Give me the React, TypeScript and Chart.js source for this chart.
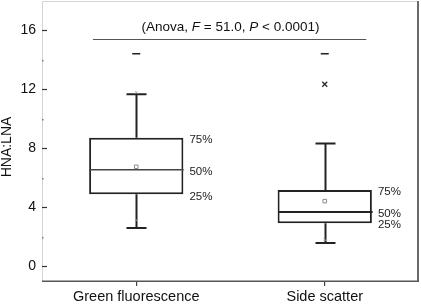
import React, { useEffect, useRef } from "react";
import { Chart, registerables } from "chart.js";

Chart.register(...registerables);

// Groups on the x axis
const categories = ["Green fluorescence", "Side scatter"];

// Box-plot summaries of HNA:LNA for each group
const whiskerLow = [2.6, 1.58];
const quartile1 = [4.88, 2.92];
const medians = [6.55, 3.68];
const quartile3 = [8.72, 5.17];
const whiskerHigh = [11.68, 8.33];
const means = [6.75, 4.42];
const maxima = [14.42, 14.42];
const outliers = [null, 12.35];
const percentile1 = [3.12, 1.8];
const percentile99 = [11.8, null];

// Percentile annotations next to each box
const percentLabels = ["75%", "50%", "25%"];

// Y axis
const yMin = -1;
const yMax = 18;
const yLabelled = [0, 4, 8, 12, 16];
const yMinor = [2, 6, 10, 14];

// Significance bracket (span in category units) and its caption
const bracketSpan = [-0.23, 1.22];
const bracketLevel = 15.45;
const captionLevel = 16.2;
const captionParts: [string, boolean][] = [
  ["(Anova, ", false],
  ["F", true],
  [" = 51.0, ", false],
  ["P", true],
  [" < 0.0001)", false],
];
const yTitle = "HNA:LNA";

const FONT = "'Liberation Sans', Arial, Helvetica, sans-serif";
const INK = "#222";

const boxPlugin = {
  id: "boxDetails",
  beforeDatasetsDraw(chart: any) {
    const { ctx, chartArea: a } = chart;
    ctx.save();
    // light top/left frame
    ctx.strokeStyle = "#d4d4d4";
    ctx.lineWidth = 1;
    ctx.beginPath();
    ctx.moveTo(a.left + 0.5, a.bottom);
    ctx.lineTo(a.left + 0.5, a.top + 0.5);
    ctx.lineTo(a.right, a.top + 0.5);
    ctx.stroke();
    ctx.restore();
  },
  afterDatasetDraw(chart: any, args: any) {
    if (args.index !== 0) return;
    const { ctx } = chart;
    const x = chart.scales.x;
    const y = chart.scales.y;
    const meta = chart.getDatasetMeta(0);
    ctx.save();
    ctx.strokeStyle = INK;
    ctx.lineCap = "butt";
    categories.forEach((_, i) => {
      const cx = Math.round(x.getPixelForValue(i)) + 0.5;
      const half = meta.data[i].width / 2;
      const capHalf = 10;
      ctx.lineWidth = 2;
      ctx.beginPath();
      // upper whisker
      ctx.moveTo(cx, y.getPixelForValue(quartile3[i]));
      ctx.lineTo(cx, y.getPixelForValue(whiskerHigh[i]));
      ctx.moveTo(cx - capHalf, y.getPixelForValue(whiskerHigh[i]));
      ctx.lineTo(cx + capHalf, y.getPixelForValue(whiskerHigh[i]));
      // lower whisker
      ctx.moveTo(cx, y.getPixelForValue(quartile1[i]));
      ctx.lineTo(cx, y.getPixelForValue(whiskerLow[i]));
      ctx.moveTo(cx - capHalf, y.getPixelForValue(whiskerLow[i]));
      ctx.lineTo(cx + capHalf, y.getPixelForValue(whiskerLow[i]));
      ctx.stroke();
      // median
      ctx.lineWidth = i === 0 ? 1.5 : 2;
      ctx.strokeStyle = i === 0 ? "#444" : INK;
      ctx.beginPath();
      ctx.moveTo(cx - half, y.getPixelForValue(medians[i]));
      ctx.lineTo(cx + half, y.getPixelForValue(medians[i]));
      ctx.stroke();
      ctx.strokeStyle = INK;
    });
    ctx.restore();
  },
  afterDraw(chart: any) {
    const { ctx, chartArea: a } = chart;
    const x = chart.scales.x;
    const y = chart.scales.y;
    const meta = chart.getDatasetMeta(0);
    ctx.save();

    // darker right/bottom frame
    ctx.strokeStyle = "#6a6a6a";
    ctx.lineWidth = 2;
    ctx.beginPath();
    ctx.moveTo(a.right - 1, a.top);
    ctx.lineTo(a.right - 1, a.bottom);
    ctx.stroke();
    ctx.strokeStyle = "#555";
    ctx.lineWidth = 1.5;
    ctx.beginPath();
    ctx.moveTo(a.left, a.bottom + 0.25);
    ctx.lineTo(a.right, a.bottom + 0.25);
    ctx.stroke();

    // inward major ticks and minor dots on the y axis
    ctx.strokeStyle = "#333";
    ctx.lineWidth = 1.2;
    yLabelled.forEach((v) => {
      const py = Math.round(y.getPixelForValue(v)) + 0.5;
      ctx.beginPath();
      ctx.moveTo(a.left, py);
      ctx.lineTo(a.left + 5, py);
      ctx.stroke();
    });
    ctx.fillStyle = "#777";
    yMinor.forEach((v) => {
      const py = Math.round(y.getPixelForValue(v));
      ctx.fillRect(a.left, py, 1.5, 1.5);
    });

    // percentile annotations
    ctx.fillStyle = INK;
    ctx.font = `11.5px ${FONT}`;
    ctx.textAlign = "left";
    ctx.textBaseline = "middle";
    categories.forEach((_, i) => {
      const cx = x.getPixelForValue(i);
      const lx = cx + meta.data[i].width / 2 + 6;
      const levels = [quartile3[i], medians[i], quartile1[i]];
      levels.forEach((v, k) => {
        ctx.fillText(percentLabels[k], lx, y.getPixelForValue(v) + 2);
      });
    });

    // significance bracket
    const x0 = x.getPixelForValue(0);
    const x1 = x.getPixelForValue(1);
    const unit = x1 - x0;
    const by = Math.round(y.getPixelForValue(bracketLevel)) + 0.5;
    ctx.strokeStyle = "#555";
    ctx.lineWidth = 1;
    ctx.beginPath();
    ctx.moveTo(x0 + bracketSpan[0] * unit, by);
    ctx.lineTo(x0 + bracketSpan[1] * unit, by);
    ctx.stroke();

    // caption with italic statistics
    const fontFor = (it: boolean) => `${it ? "italic " : ""}13.5px ${FONT}`;
    let total = 0;
    captionParts.forEach(([t, it]) => {
      ctx.font = fontFor(it);
      total += ctx.measureText(t).width;
    });
    let tx = (x0 + x1) / 2 - total / 2;
    const ty = y.getPixelForValue(captionLevel);
    ctx.fillStyle = "#111";
    ctx.textBaseline = "middle";
    captionParts.forEach(([t, it]) => {
      ctx.font = fontFor(it);
      ctx.fillText(t, tx, ty);
      tx += ctx.measureText(t).width;
    });

    // y axis title
    ctx.save();
    ctx.translate(7, 147);
    ctx.rotate(-Math.PI / 2);
    ctx.textAlign = "center";
    ctx.textBaseline = "middle";
    ctx.font = `14px ${FONT}`;
    ctx.fillStyle = "#111";
    ctx.fillText(yTitle, 0, 0);
    ctx.restore();

    ctx.restore();
  },
};

export default function App() {
  const ref = useRef<HTMLCanvasElement | null>(null);

  useEffect(() => {
    if (!ref.current) return;
    const chart = new Chart(ref.current, {
      type: "bar",
      data: {
        labels: categories,
        datasets: [
          {
            type: "bar",
            label: "IQR",
            data: categories.map((_, i) => [quartile1[i], quartile3[i]]) as any,
            backgroundColor: "#ffffff",
            borderColor: INK,
            borderWidth: 2,
            borderSkipped: false,
            barPercentage: 0.5,
            categoryPercentage: 1,
            order: 10,
          },
          {
            type: "line",
            label: "Mean",
            data: means,
            showLine: false,
            pointStyle: "rect",
            pointRadius: 2.5,
            borderColor: "#8a8a8a",
            backgroundColor: "#ffffff",
            pointBorderWidth: 1,
            order: 1,
          },
          {
            type: "line",
            label: "Maximum",
            data: maxima,
            showLine: false,
            pointStyle: "line",
            pointRadius: 4,
            borderColor: INK,
            pointBorderWidth: 1.3,
            order: 1,
          },
          {
            type: "line",
            label: "Outlier",
            data: outliers as any,
            showLine: false,
            pointStyle: "crossRot",
            pointRadius: 3.5,
            borderColor: INK,
            pointBorderWidth: 1.2,
            order: 1,
          },
          {
            type: "line",
            label: "1%",
            data: percentile1 as any,
            showLine: false,
            pointStyle: "crossRot",
            pointRadius: 1.8,
            borderColor: "#9a9a9a",
            pointBorderWidth: 0.8,
            order: 1,
          },
          {
            type: "line",
            label: "99%",
            data: percentile99 as any,
            showLine: false,
            pointStyle: "crossRot",
            pointRadius: 1.8,
            borderColor: "#9a9a9a",
            pointBorderWidth: 0.8,
            order: 1,
          },
        ],
      },
      options: {
        responsive: false,
        animation: false,
        events: [],
        layout: { autoPadding: false, padding: { top: 1, right: 2, left: 0, bottom: 0 } },
        plugins: {
          legend: { display: false },
          tooltip: { enabled: false },
        },
        scales: {
          x: {
            type: "category",
            offset: true,
            border: { display: false },
            grid: {
              display: true,
              offset: false,
              drawOnChartArea: false,
              drawTicks: true,
              tickLength: 5,
              color: "#444",
              lineWidth: 1.2,
            },
            ticks: {
              color: "#111",
              font: { family: FONT, size: 14.5 },
              padding: 2,
              maxRotation: 0,
            },
            afterFit: (s: any) => {
              s.height = 23;
              s.paddingLeft = 0;
              s.paddingRight = 0;
            },
          },
          y: {
            type: "linear",
            min: yMin,
            max: yMax,
            border: { display: false },
            grid: {
              display: true,
              drawOnChartArea: false,
              drawTicks: false,
              color: "rgba(0,0,0,0)",
            },
            afterBuildTicks: (s: any) => {
              s.ticks = yLabelled.map((v) => ({ value: v }));
            },
            ticks: {
              color: "#111",
              font: { family: FONT, size: 14 },
              padding: 6,
              callback: (v: any) => String(v),
            },
            afterFit: (s: any) => {
              s.width = 42;
              s.paddingTop = 0;
              s.paddingBottom = 0;
            },
          },
        },
      },
      plugins: [boxPlugin],
    });
    return () => chart.destroy();
  }, []);

  return (
    <div style={{ position: "absolute", left: 0, top: 0, width: 421, height: 304, background: "#fff" }}>
      <canvas ref={ref} width={421} height={304} />
    </div>
  );
}
